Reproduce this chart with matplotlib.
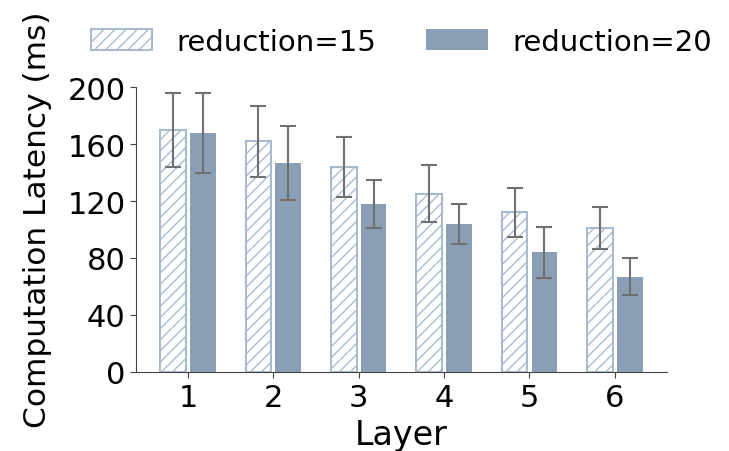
import numpy as np
import matplotlib
matplotlib.use("Agg")
import matplotlib.pyplot as plt

layers = [1, 2, 3, 4, 5, 6]
lat_r15 = [170, 162, 144, 125, 112, 101]
err_r15 = [26, 25, 21, 20, 17, 15]
lat_r20 = [168, 147, 118, 104, 84, 67]
err_r20 = [28, 26, 17, 14, 18, 13]

solid_color = "#8a9fb5"
hatch_color = "#a9bccf"
err_color = "#707070"

plt.rcParams["font.family"] = "DejaVu Sans"
plt.rcParams["hatch.linewidth"] = 1.0

fig = plt.figure(figsize=(7.29, 4.52), dpi=100)
ax = fig.add_axes([0.1866, 0.175, 0.728, 0.63])

x = np.array(layers, dtype=float)
w = 0.3
ekw = dict(ecolor=err_color, elinewidth=1.5, capthick=1.5)
ax.bar(x - 0.175, lat_r15, w, yerr=err_r15, capsize=6, error_kw=ekw,
       facecolor="white", edgecolor=hatch_color, hatch="///", linewidth=1.5,
       label="reduction=15")
ax.bar(x + 0.175, lat_r20, w, yerr=err_r20, capsize=6, error_kw=ekw,
       color=solid_color, label="reduction=20")

ax.set_ylim(0, 200)
ax.set_yticks([0, 40, 80, 120, 160, 200])
ax.set_xticks(layers)
ax.tick_params(labelsize=22, length=4, color="#444444")
ax.tick_params(axis="x", pad=4)
for s in ["top", "right"]:
    ax.spines[s].set_visible(False)
for s in ["left", "bottom"]:
    ax.spines[s].set_color("#444444")

ax.set_xlabel("Layer", fontsize=24)
ax.xaxis.set_label_coords(0.5, -0.162)
ax.set_ylabel("Computation Latency (ms)", fontsize=22.5)
ax.yaxis.set_label_coords(-0.158, 0.537)

ax.legend(loc="center", bbox_to_anchor=(0.5, 1.16), ncol=2, frameon=False,
          fontsize=21, handlelength=2.1, handletextpad=0.85,
          columnspacing=1.7, borderaxespad=0)

fig.savefig("out.png", dpi=100)
